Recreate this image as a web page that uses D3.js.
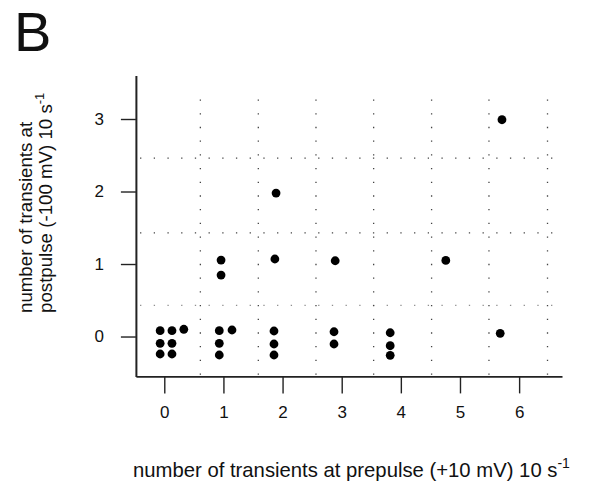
<!DOCTYPE html>
<html>
<head>
<meta charset="utf-8">
<script src="https://cdn.jsdelivr.net/npm/d3@7"></script>
<style>
  html, body { margin: 0; padding: 0; background: #fff; }
  svg { display: block; }
  text { font-family: "Liberation Sans", Arial, Helvetica, sans-serif; fill: #111; }
</style>
</head>
<body>
<svg id="chart" width="595" height="487"></svg>
<script>
// ---- data ----
const xTicks = [0, 1, 2, 3, 4, 5, 6];
const yTicks = [0, 1, 2, 3];
// dot positions: x = transients at prepulse, y = transients at postpulse (drawn with slight offsets as in the figure)
const dotX = [-0.07, 0.13, 0.33, -0.07, 0.13, -0.07, 0.13,
              0.93, 1.145, 0.93, 0.93, 0.96, 0.96,
              1.855, 1.855, 1.855, 1.89, 1.87,
              2.89, 2.87, 2.87,
              3.82, 3.82, 3.82,
              4.76,
              5.68, 5.71];
const dotY = [0.08, 0.08, 0.10, -0.094, -0.094, -0.241, -0.241,
              0.08, 0.09, -0.094, -0.255, 1.055, 0.848,
              0.076, -0.103, -0.255, 1.979, 1.069,
              1.045, 0.066, -0.103,
              0.052, -0.127, -0.26,
              1.05,
              0.044, 2.99];
const gridX = [0.61, 1.59, 2.565, 3.54, 4.52, 5.49, 6.48];
const gridY = [0.43, 1.43, 2.46];
const xTitle = "number of transients at prepulse (+10 mV) 10 s";
const yTitle1 = "number of transients at";
const yTitle2 = "postpulse (-100 mV) 10 s";
const supText = "-1";
const panelLabel = "B";

// ---- scales ----
const x = d3.scaleLinear().domain([-0.48, 6.725]).range([135.9, 562]);
const y = d3.scaleLinear().domain([-0.55, 3.6]).range([376.4, 75.5]);

const svg = d3.select("#chart");

// grid (dotted)
const grid = svg.append("g").attr("fill", "none").attr("stroke", "#444")
  .attr("stroke-width", 1.3).attr("stroke-dasharray", "1.3,12.4");
grid.selectAll("line.gx").data(gridX).join("line").attr("class", "gx")
  .attr("x1", d => x(d)).attr("x2", d => x(d))
  .attr("y1", y(3.27)).attr("y2", y(-0.53));
grid.selectAll("line.gy").data(gridY).join("line").attr("class", "gy")
  .attr("x1", x(-0.41)).attr("x2", x(6.72))
  .attr("y1", d => y(d)).attr("y2", d => y(d))
  .attr("opacity", (d, i) => i === 0 ? 0.6 : 1);

// axes
const xAxis = svg.append("g").attr("transform", `translate(0,${y(-0.55)})`)
  .call(d3.axisBottom(x).tickValues(xTicks).tickFormat(d3.format("d"))
        .tickSize(17).tickSizeOuter(0).tickPadding(13));
xAxis.select(".domain").attr("stroke", "#222").attr("stroke-width", 1.6);
xAxis.selectAll(".tick line").attr("stroke", "#222").attr("stroke-width", 1.4);
xAxis.selectAll(".tick text").attr("font-size", 17).attr("font-family", null).attr("fill", "#111");

const yAxis = svg.append("g").attr("transform", `translate(${x(-0.48)},0)`)
  .call(d3.axisLeft(y).tickValues(yTicks).tickFormat(d3.format("d"))
        .tickSize(15).tickSizeOuter(0).tickPadding(17));
yAxis.select(".domain").attr("stroke", "#222").attr("stroke-width", 2);
yAxis.selectAll(".tick line").attr("stroke", "#222").attr("stroke-width", 1.4);
yAxis.selectAll(".tick text").attr("font-size", 17).attr("font-family", null).attr("fill", "#111");

// dots
svg.append("g").selectAll("circle").data(dotX).join("circle")
  .attr("cx", d => x(d)).attr("cy", (d, i) => y(dotY[i]))
  .attr("r", 4.4).attr("fill", "#000");

// titles
const xt = svg.append("text").attr("x", 133).attr("y", 477).attr("font-size", 20.3).text(xTitle);
xt.append("tspan").attr("dy", -9).attr("font-size", 14).text(supText);

const yt1 = svg.append("text").attr("transform", "translate(32,313) rotate(-90)")
  .attr("font-size", 18.7).text(yTitle1);
const yt2 = svg.append("text").attr("transform", "translate(52,313) rotate(-90)")
  .attr("font-size", 18.7).text(yTitle2);
yt2.append("tspan").attr("dy", -8).attr("font-size", 13).text(supText);

svg.append("text").attr("x", 14).attr("y", 51).attr("font-size", 56).text(panelLabel);
</script>
</body>
</html>
